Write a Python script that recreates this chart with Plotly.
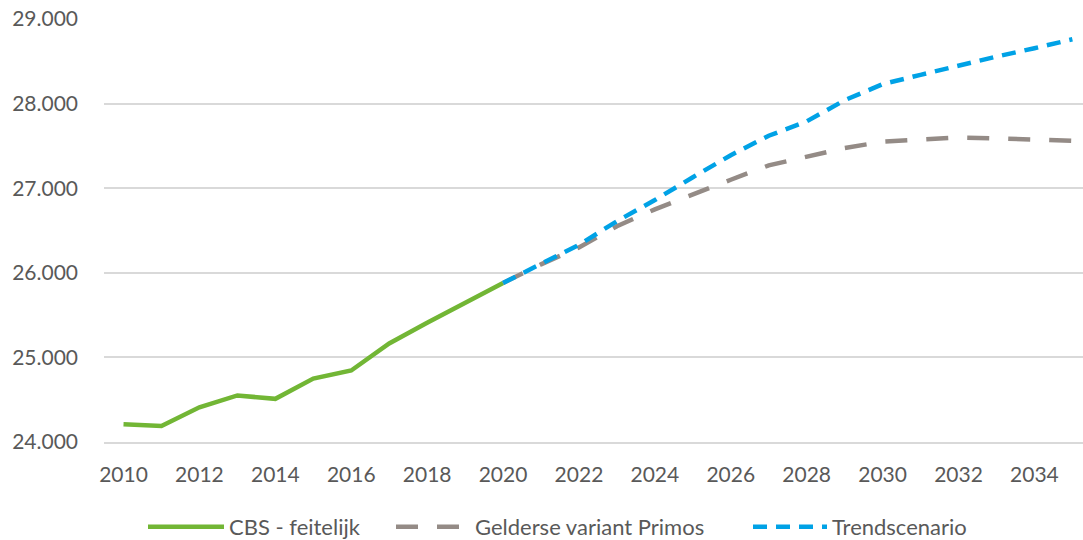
import plotly.graph_objects as go

# Jaren en waarden
years_actual = list(range(2010, 2021))
cbs_feitelijk = [24210, 24190, 24410, 24550, 24510, 24750, 24845, 25165, 25410, 25650, 25880]

years_forecast = list(range(2020, 2036))
gelderse_primos = [25880, 26100, 26300, 26550, 26750, 26930, 27100, 27270, 27375, 27475,
                   27550, 27580, 27600, 27590, 27580, 27560]
trendscenario = [25880, 26110, 26330, 26610, 26860, 27130, 27390, 27620, 27790, 28040,
                 28230, 28340, 28450, 28555, 28655, 28760]

x_ticks = list(range(2010, 2035, 2))
y_ticks = [24000, 25000, 26000, 27000, 28000, 29000]
y_tick_text = ["24.000", "25.000", "26.000", "27.000", "28.000", "29.000"]

font_family = "Lato, 'Open Sans', sans-serif"
text_color = "#595959"
grid_color = "#D9D9D9"

fig = go.Figure()
fig.add_trace(go.Scatter(
    x=years_actual, y=cbs_feitelijk, mode="lines", name="CBS - feitelijk",
    line=dict(color="#72B635", width=4.5), legend="legend",
))
fig.add_trace(go.Scatter(
    x=years_forecast, y=gelderse_primos, mode="lines", name="Gelderse variant Primos",
    line=dict(color="#948B86", width=4.5, dash="22px,19px"), legend="legend2",
))
fig.add_trace(go.Scatter(
    x=years_forecast, y=trendscenario, mode="lines", name="Trendscenario",
    line=dict(color="#00A2E6", width=4.5, dash="14px,9px"), legend="legend3",
))


def legend_box(x_px, item_w):
    return dict(
        orientation="h", xref="container", yref="container",
        x=x_px / 1083, xanchor="left", y=1 - 527 / 540, yanchor="middle",
        font=dict(size=22, color=text_color), itemwidth=item_w,
        bgcolor="rgba(0,0,0,0)",
    )


fig.update_layout(
    width=1083, height=540,
    margin=dict(l=104, r=0, t=19, b=98, autoexpand=False),
    paper_bgcolor="white", plot_bgcolor="white",
    font=dict(family=font_family, size=21, color=text_color),
    showlegend=True,
    legend=legend_box(143, 76),
    legend2=legend_box(391, 74),
    legend3=legend_box(748, 74),
    xaxis=dict(
        range=[2009.486, 2035.28], tickvals=x_ticks, ticktext=[str(t) for t in x_ticks],
        showgrid=False, zeroline=False, ticks="",
        showline=True, linecolor=grid_color, linewidth=1.5,
        ticklabelstandoff=13, automargin=False,
    ),
    yaxis=dict(
        range=[24000, 29000], tickvals=y_ticks, ticktext=y_tick_text,
        showgrid=True, gridcolor=grid_color, gridwidth=1.5,
        zeroline=False, showline=False, ticks="",
        ticklabelstandoff=25, automargin=False,
    ),
)

fig.write_html("out.html")
